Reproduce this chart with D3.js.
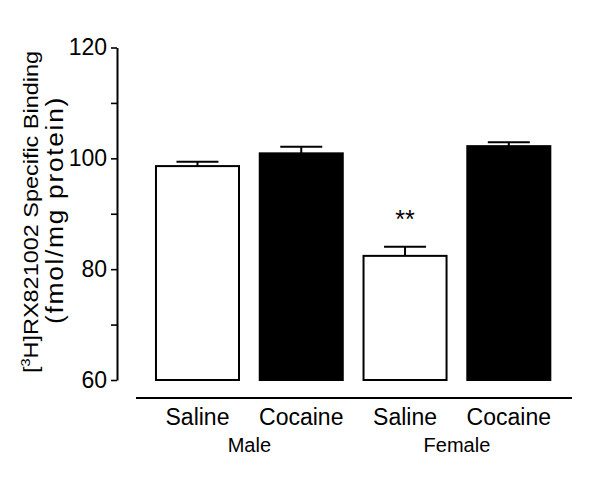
<!DOCTYPE html>
<html>
<head>
<meta charset="utf-8">
<script src="https://cdn.jsdelivr.net/npm/d3@7"></script>
<style>
  html, body { margin: 0; padding: 0; background: #fff; }
  svg { display: block; font-family: "Liberation Sans", Arial, sans-serif; }
</style>
</head>
<body>
<svg id="chart" width="600" height="487"></svg>
<script>
// ---- data ----
const categories = ["Saline", "Cocaine", "Saline", "Cocaine"];
const groups = ["Male", "Female"];
const treatments = ["saline", "cocaine", "saline", "cocaine"];
const means = [98.6, 100.9, 82.4, 102.2];
const sems = [0.8, 1.2, 1.65, 0.7];
const significance = ["", "", "**", ""];
const yTicksMajor = [60, 80, 100, 120];
const yTicksMinor = [70, 90, 110];

// ---- layout ----
const svg = d3.select("#chart");
const y = d3.scaleLinear().domain([60, 120]).range([380, 47.5]);
const x = d3.scaleBand().domain(d3.range(categories.length))
  .range([145.6, 560.7]).paddingInner(0.2).paddingOuter(0.1);
const axisX = 117;

// y axis
const yAxis = d3.axisLeft(y).tickValues(yTicksMajor).tickSize(6).tickPadding(4).tickSizeOuter(0);
const gy = svg.append("g").attr("transform", `translate(${axisX},0)`).call(yAxis);
gy.select(".domain").attr("stroke", "#000").attr("stroke-width", 2);
gy.selectAll(".tick line").attr("stroke", "#000").attr("stroke-width", 1.6);
gy.selectAll(".tick text").attr("font-size", 23).attr("fill", "#000")
  .attr("font-family", "Liberation Sans, Arial, sans-serif");
const gyMinor = svg.append("g").attr("transform", `translate(${axisX},0)`)
  .call(d3.axisLeft(y).tickValues(yTicksMinor).tickSize(6).tickFormat("").tickSizeOuter(0));
gyMinor.select(".domain").remove();
gyMinor.selectAll(".tick line").attr("stroke", "#000").attr("stroke-width", 1.6);

// y title
const t1 = svg.append("text")
  .attr("transform", "translate(38,212) rotate(-90)")
  .attr("text-anchor", "middle").attr("font-size", 21)
  .attr("textLength", 322).attr("lengthAdjust", "spacingAndGlyphs");
t1.append("tspan").text("[");
t1.append("tspan").attr("font-size", 13).attr("dy", -8).text("3");
t1.append("tspan").attr("dy", 8).text("H]RX821002 Specific Binding");
svg.append("text")
  .attr("transform", "translate(63,210) rotate(-90)")
  .attr("text-anchor", "middle").attr("font-size", 23)
  .attr("letter-spacing", 1.5)
  .attr("textLength", 228).attr("lengthAdjust", "spacingAndGlyphs")
  .text("(fmol/mg protein)");

// bars
const bars = svg.append("g");
bars.selectAll("rect").data(means).join("rect")
  .attr("x", (d, i) => x(i))
  .attr("y", d => y(d))
  .attr("width", x.bandwidth())
  .attr("height", d => y(60) - y(d))
  .attr("fill", (d, i) => treatments[i] === "saline" ? "#fff" : "#000")
  .attr("stroke", "#000").attr("stroke-width", 2);

// error bars
const capHalf = 21;
const eb = svg.append("g").attr("stroke", "#000").attr("stroke-width", 2);
means.forEach((m, i) => {
  const cx = x(i) + x.bandwidth() / 2;
  eb.append("line").attr("x1", cx).attr("x2", cx).attr("y1", y(m)).attr("y2", y(m + sems[i]));
  eb.append("line").attr("x1", cx - capHalf).attr("x2", cx + capHalf)
    .attr("y1", y(m + sems[i])).attr("y2", y(m + sems[i]));
});

// significance
svg.append("g").selectAll("text").data(significance).join("text")
  .attr("x", (d, i) => x(i) + x.bandwidth() / 2)
  .attr("y", (d, i) => y(means[i] + sems[i]) - 19)
  .attr("text-anchor", "middle").attr("font-size", 25)
  .text(d => d);

// x axis line
svg.append("line").attr("x1", 136).attr("x2", 572).attr("y1", 398).attr("y2", 398)
  .attr("stroke", "#000").attr("stroke-width", 2);

// category labels
svg.append("g").selectAll("text").data(categories).join("text")
  .attr("x", (d, i) => x(i) + x.bandwidth() / 2)
  .attr("y", 425).attr("text-anchor", "middle").attr("font-size", 23)
  .text(d => d);

// group labels
svg.append("g").selectAll("text").data(groups).join("text")
  .attr("x", (d, g) => (x(2 * g) + x(2 * g + 1) + x.bandwidth()) / 2)
  .attr("y", 452).attr("text-anchor", "middle").attr("font-size", 20)
  .text(d => d);
</script>
</body>
</html>
